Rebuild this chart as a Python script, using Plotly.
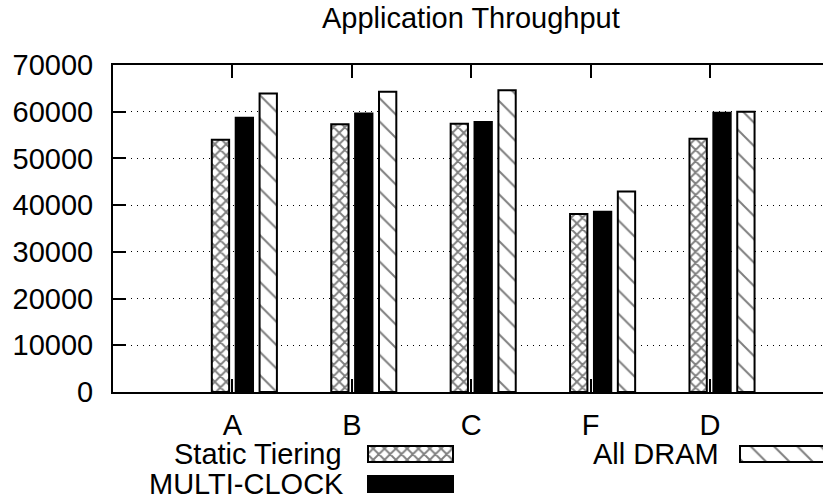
import plotly.graph_objects as go

categories = ["A", "B", "C", "F", "D"]
series_names = ["Static Tiering", "MULTI-CLOCK", "All DRAM"]
static_tiering = [54000, 57300, 57400, 38100, 54200]
multi_clock = [58700, 59600, 57800, 38600, 59800]
all_dram = [63900, 64300, 64600, 42900, 60000]
y_ticks = [0, 10000, 20000, 30000, 40000, 50000, 60000, 70000]

W, H = 823, 499
ML, MT = 113, 65
PLOT_BOTTOM = 392  # pixel row of the x axis
FONT = dict(family="Liberation Sans, Arial, sans-serif", size=29, color="black")

styles = [
    dict(color="white", line=dict(color="black", width=2),
         pattern=dict(shape="x", fgcolor="black", bgcolor="white", size=8, solidity=0.42)),
    dict(color="black", line=dict(color="black", width=2)),
    dict(color="white", line=dict(color="black", width=2),
         pattern=dict(shape="\\", fgcolor="black", bgcolor="white", size=16.5, solidity=0.12)),
]
offsets = [-0.1725, 0.0275, 0.2275]
bar_w = 0.145

fig = go.Figure()
for name, vals, st, off in zip(series_names, [static_tiering, multi_clock, all_dram], styles, offsets):
    fig.add_trace(go.Bar(x=categories, y=vals, name=name, marker=st,
                         offset=off, width=bar_w, showlegend=False,
                         xaxis="x", yaxis="y"))

# custom legend keys (label on the left, key box on the right, like gnuplot)
ydom0 = (H - PLOT_BOTTOM) / (H - MT)
legend_items = [
    # name, style index, right end of text, box left, box top
    (series_names[0], 0, 344, 368, 446),
    (series_names[1], 1, 346, 368, 476),
    (series_names[2], 2, 721, 740, 446),
]
for name, si, tx, bx, by in legend_items:
    fig.add_trace(go.Bar(orientation="h", x=[85], base=[bx], y=[H - (by + 8)], width=16,
                         marker=styles[si], showlegend=False, xaxis="x2", yaxis="y2",
                         hoverinfo="skip"))
    fig.add_annotation(text=name, xref="x2", yref="y2", x=tx, y=H - (by + 8),
                       xanchor="right", yanchor="middle", showarrow=False, font=FONT)

fig.add_annotation(text="Application Throughput", xref="paper", yref="paper",
                   x=(471 - ML) / (W - ML), y=(H - 18) / (H - MT),
                   xanchor="center", yanchor="middle", showarrow=False, font=FONT)

fig.update_layout(
    width=W, height=H,
    margin=dict(l=ML, r=0, t=MT, b=0, pad=0, autoexpand=False),
    paper_bgcolor="white", plot_bgcolor="white",
    barmode="overlay",
    font=FONT,
    xaxis=dict(type="category", range=[-1, (W - 232) / 119.5], domain=[0, 1], anchor="y",
               showline=True, linecolor="black", linewidth=2, mirror="ticks",
               ticks="inside", ticklen=13, tickwidth=2, tickcolor="black", automargin=False,
               showgrid=False, zeroline=False, tickfont=FONT, ticklabelstandoff=6),
    yaxis=dict(range=[0, 70000], domain=[ydom0, 1], anchor="x",
               tickvals=y_ticks, tickformat="d", automargin=False,
               showline=True, linecolor="black", linewidth=2,
               ticks="inside", ticklen=13, tickwidth=2, tickcolor="black",
               showgrid=True, gridcolor="black", gridwidth=1, griddash="1px,5px",
               zeroline=False, tickfont=FONT, ticklabelstandoff=12),
    yaxis3=dict(range=[0, 70000], overlaying="y", side="right", anchor="x", automargin=False,
                tickvals=y_ticks, ticks="inside", ticklen=7, tickwidth=2, tickcolor="black",
                showticklabels=False, showgrid=False, showline=False, zeroline=False),
    xaxis2=dict(range=[ML, W], domain=[0, 1], anchor="y2", visible=False, automargin=False),
    yaxis2=dict(range=[0, H - PLOT_BOTTOM], domain=[0, ydom0], anchor="x2", visible=False,
                automargin=False),
)

fig.write_html("out.html")
